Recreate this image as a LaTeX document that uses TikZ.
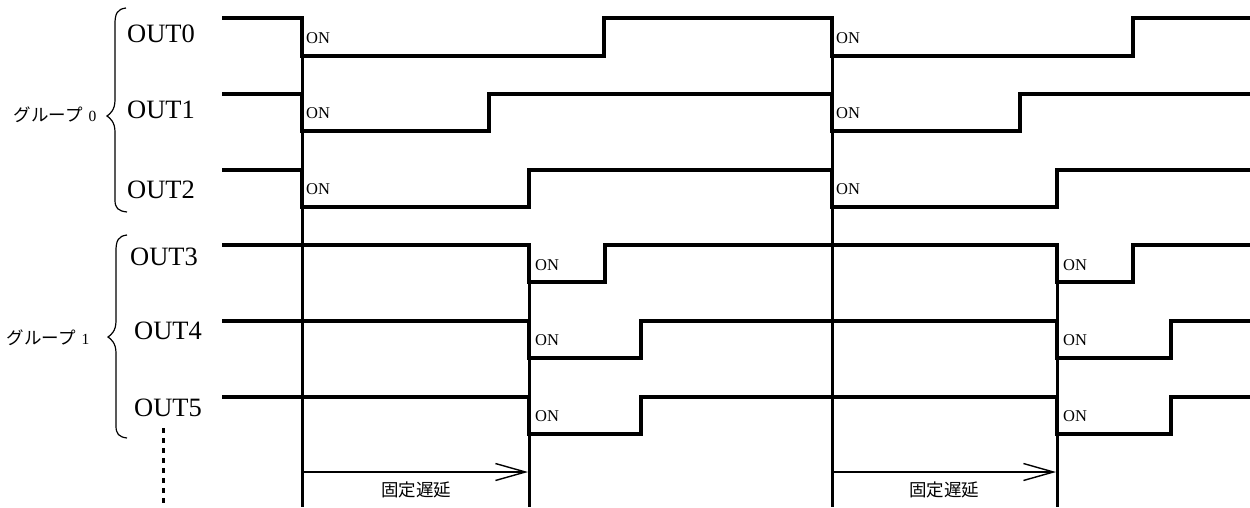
\documentclass[tikz,border=0pt]{standalone}
\usepackage{fontspec}
\setmainfont{Liberation Serif}
\newfontfamily\jpfont{Noto Sans CJK JP}
\usetikzlibrary{arrows.meta}
\tikzset{
  wave/.style={line width=3.2pt, line join=miter, line cap=rect},
  guide/.style={line width=3pt},
  outlbl/.style={inner sep=0pt, font=\fontsize{26.5}{28}\selectfont},
  onlbl/.style={inner sep=0pt, anchor=west, font=\fontsize{16.5}{18}\selectfont},
  grplbl/.style={inner sep=0pt, font=\fontsize{15.5}{17}\selectfont},
  delaylbl/.style={inner sep=0pt, font=\jpfont\fontsize{17.5}{19}\selectfont},
  delayarrow/.style={line width=1.8pt, -{Straight Barb[length=30pt,width=17pt,line width=1.4pt]}},
  bracestyle/.style={line width=1.2pt},
  dotline/.style={line width=3pt, dash pattern=on 5pt off 5pt}
}
\begin{document}
\begin{tikzpicture}[x=1pt,y=-1pt]
\useasboundingbox (0,0) rectangle (1250,507);
% guide verticals
\draw[guide] (302,18) -- (302,507);
\draw[guide] (832,18) -- (832,507);
\draw[guide] (529,245) -- (529,507);
\draw[guide] (1057,245) -- (1057,507);
% waveforms
\draw[wave] (224,18) -- (302,18) -- (302,56) -- (604,56) -- (604,18) -- (832,18) -- (832,56) -- (1133,56) -- (1133,18) -- (1248,18);
\draw[wave] (224,94) -- (302,94) -- (302,131) -- (489,131) -- (489,94) -- (832,94) -- (832,131) -- (1020,131) -- (1020,94) -- (1248,94);
\draw[wave] (224,170) -- (302,170) -- (302,207) -- (529,207) -- (529,170) -- (832,170) -- (832,207) -- (1057,207) -- (1057,170) -- (1248,170);
\draw[wave] (224,245) -- (529,245) -- (529,282) -- (605,282) -- (605,245) -- (1057,245) -- (1057,282) -- (1133,282) -- (1133,245) -- (1248,245);
\draw[wave] (224,321) -- (529,321) -- (529,358) -- (641,358) -- (641,321) -- (1057,321) -- (1057,358) -- (1171,358) -- (1171,321) -- (1248,321);
\draw[wave] (224,397) -- (529,397) -- (529,434) -- (641,434) -- (641,397) -- (1057,397) -- (1057,434) -- (1171,434) -- (1171,397) -- (1248,397);
% ON labels
\node[onlbl] (on0a) at (306,38) {ON};
\node[onlbl] (on0b) at (836,38) {ON};
\node[onlbl] (on1a) at (306,113) {ON};
\node[onlbl] (on1b) at (836,113) {ON};
\node[onlbl] (on2a) at (306,189) {ON};
\node[onlbl] (on2b) at (836,189) {ON};
\node[onlbl] (on3a) at (535,265) {ON};
\node[onlbl] (on3b) at (1063,265) {ON};
\node[onlbl] (on4a) at (535,340) {ON};
\node[onlbl] (on4b) at (1063,340) {ON};
\node[onlbl] (on5a) at (535,416) {ON};
\node[onlbl] (on5b) at (1063,416) {ON};
% output labels
\node[outlbl] (out0) at (161,34) {OUT0};
\node[outlbl] (out1) at (161,110) {OUT1};
\node[outlbl] (out2) at (161,190) {OUT2};
\node[outlbl] (out3) at (164,257) {OUT3};
\node[outlbl] (out4) at (168,331) {OUT4};
\node[outlbl] (out5) at (168,408) {OUT5};
% group labels
\node[grplbl] (g0) at (55,115) {{\jpfont\fontsize{17.5}{19}\selectfont グループ}\hspace{6pt}0};
\node[grplbl] (g1) at (48,338) {{\jpfont\fontsize{17.5}{19}\selectfont グループ}\hspace{6pt}1};
% braces
\draw[bracestyle] (126,8) .. controls (117,9) and (115,14) .. (115,24) -- (115,100)
  .. controls (115,110) and (110,114) .. (107,116)
  .. controls (110,118) and (115,122) .. (115,132) -- (115,200)
  .. controls (115,208) and (118,211) .. (127,212);
\draw[bracestyle] (127,235) .. controls (118,236) and (116,241) .. (116,251) -- (116,321)
  .. controls (116,331) and (111,335) .. (108,337)
  .. controls (111,339) and (116,343) .. (116,353) -- (116,426)
  .. controls (116,434) and (119,437) .. (127,438);
% dotted continuation
\coordinate (dotS) at (163,428);
\coordinate (dotE) at (163,507);
\draw[dotline] (dotS) -- (dotE);
% delay arrows
\coordinate (d1s) at (302,472);
\coordinate (d1e) at (528,472);
\coordinate (d2s) at (832,472);
\coordinate (d2e) at (1056,472);
\draw[delayarrow] (d1s) -- (d1e);
\draw[delayarrow] (d2s) -- (d2e);
\node[delaylbl] (dl1) at (416,490) {固定遅延};
\node[delaylbl] (dl2) at (944,490) {固定遅延};
\end{tikzpicture}
\end{document}
